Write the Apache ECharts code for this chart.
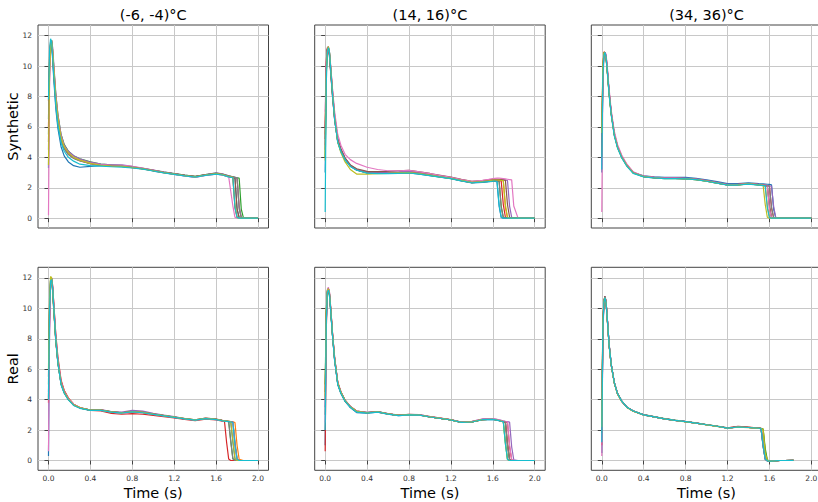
<!DOCTYPE html>
<html><head><meta charset="utf-8">
<script src="https://cdn.jsdelivr.net/npm/echarts@6/dist/echarts.min.js"></script>
<style>html,body{margin:0;padding:0;background:#fff}#c{width:818px;height:502px}</style>
</head><body><div id="c"></div>
<script>
// ---------- text / ticks ----------
const panelTitles = ['(-6, -4)°C', '(14, 16)°C', '(34, 36)°C'];
const rowLabels = ['Synthetic', 'Real'];
const xLabel = 'Time (s)';
const xTicks = [0, 0.4, 0.8, 1.2, 1.6, 2.0];
const yTicks = [0, 2, 4, 6, 8, 10, 12];
const tab10 = ['#1f77b4','#ff7f0e','#2ca02c','#d62728','#9467bd','#8c564b','#e377c2','#7f7f7f','#bcbd22','#17becf'];

// ---------- time grids ----------
const tHead = [0,0.01,0.02,0.03,0.04,0.05,0.07,0.09,0.12,0.15,0.19,0.24,0.3,0.4,0.5,0.6,0.7,0.8,0.9,1.0,1.1,1.2,1.3,1.4,1.5];
const tSynCold = tHead.concat([1.6,1.66,1.72,1.76,1.78,1.80,1.82,1.84,1.86,1.88,1.92,2.0]);
const tRealCold = tHead.concat([1.6,1.66,1.68,1.70,1.72,1.74,1.76,1.78,1.80,1.82,1.86,2.0]);
const tSynMid = tHead.concat([1.56,1.6,1.62,1.64,1.66,1.68,1.70,1.72,1.74,1.76,1.78,1.80,1.84,2.0]);
const tRealMid = tHead.concat([1.6,1.66,1.68,1.70,1.72,1.74,1.76,1.78,1.80,1.84,2.0]);
const tSynHot = tHead.concat([1.54,1.56,1.58,1.60,1.62,1.64,1.66,1.68,1.72,1.8,2.0]);
const tRealHot = tHead.concat([1.52,1.54,1.56,1.58,1.6,1.65,1.7,1.75,1.83]);

// ---------- series values (one array per curve) ----------
const synCold = [
[3.3,9.8,11.6,11.5,10.4,9.2,7.2,5.9,4.7,4.1,3.7,3.45,3.35,3.4,3.45,3.45,3.4,3.35,3.25,3.1,3.0,2.88,2.78,2.7,2.83, 2.9,2.84,2.72,2.66,2.62,0.6,0.04,0,0,0,0,0],
[7.7,10.6,11.5,11.6,10.9,9.8,7.9,6.6,5.3,4.7,4.3,4.0,3.85,3.62,3.5,3.45,3.45,3.35,3.25,3.15,3.02,2.92,2.82,2.74,2.85, 2.94,2.88,2.76,2.7,2.67,2.64,0.7,0.05,0,0,0,0],
[5.5,10.2,11.4,11.7,11.0,10.0,8.1,6.8,5.5,4.85,4.4,4.1,3.9,3.7,3.55,3.5,3.45,3.38,3.28,3.15,3.03,2.93,2.83,2.75,2.87, 2.97,2.9,2.78,2.72,2.69,2.66,2.63,0.6,0.04,0,0,0],
[6.0,10.0,11.5,11.6,10.7,9.6,7.7,6.4,5.2,4.6,4.2,3.95,3.78,3.58,3.48,3.42,3.4,3.33,3.24,3.13,3.0,2.9,2.8,2.72,2.83, 2.92,2.86,2.74,2.68,0.7,0.05,0,0,0,0,0,0],
[4.5,9.6,11.3,11.7,11.2,10.2,8.2,6.8,5.5,4.8,4.4,4.1,3.9,3.68,3.55,3.5,3.5,3.4,3.28,3.16,3.04,2.93,2.83,2.74,2.87, 2.98,2.92,2.79,2.72,2.69,2.66,0.8,0.06,0,0,0,0],
[5.0,9.8,11.4,11.6,10.8,9.7,7.8,6.5,5.25,4.65,4.25,3.98,3.8,3.6,3.5,3.45,3.43,3.36,3.26,3.14,3.01,2.91,2.81,2.73,2.85, 2.93,2.87,2.75,2.69,2.66,0.6,0.04,0,0,0,0,0],
[0.2,8.5,11.2,11.7,11.1,10.0,8.0,6.6,5.35,4.7,4.3,4.02,3.82,3.62,3.52,3.48,3.47,3.4,3.3,3.16,3.02,2.9,2.78,2.68,2.81, 2.9,2.84,2.72,0.8,0.06,0,0,0,0,0,0,0],
[6.5,10.4,11.6,11.6,10.6,9.5,7.6,6.3,5.1,4.55,4.18,3.93,3.76,3.58,3.48,3.44,3.42,3.36,3.26,3.14,3.02,2.92,2.82,2.74,2.85, 2.94,2.88,2.76,2.7,2.67,2.64,0.6,0.04,0,0,0,0],
[3.5,9.5,11.3,11.7,11.0,9.9,7.9,6.6,5.3,4.7,4.3,4.0,3.82,3.6,3.48,3.42,3.4,3.33,3.24,3.12,3.0,2.9,2.8,2.72,2.84, 2.93,2.86,2.74,2.68,0.9,0.06,0,0,0,0,0,0],
[7.8,11.0,11.8,11.6,10.6,9.4,7.4,6.1,4.95,4.4,4.0,3.75,3.55,3.45,3.42,3.38,3.36,3.3,3.22,3.1,2.98,2.88,2.78,2.7,2.81, 2.9,2.84,2.72,2.66,0.7,0.05,0,0,0,0,0,0]
];
const realCold = [
[0.3,8.5,11.6,11.9,11.3,10.1,7.9,6.4,5.0,4.45,4.0,3.65,3.45,3.3,3.32,3.2,3.14,3.22,3.16,3.04,2.94,2.84,2.73,2.66,2.76, 2.7,2.62,2.6,2.58,2.56,2.54,1.2,0.1,0,0,0,0],
[4.0,9.5,11.8,12.0,11.5,10.3,8.1,6.6,5.2,4.6,4.1,3.7,3.48,3.32,3.33,3.2,3.14,3.22,3.17,3.06,2.96,2.86,2.76,2.68,2.78, 2.72,2.64,2.62,2.6,2.58,2.56,2.54,2.5,1.0,0.08,0,0],
[5.0,10.0,11.9,11.9,11.2,10.0,7.9,6.5,5.1,4.5,4.05,3.66,3.46,3.31,3.3,3.18,3.12,3.2,3.15,3.04,2.94,2.84,2.74,2.66,2.76, 2.7,2.62,2.6,2.58,2.55,1.3,0.12,0,0,0,0,0],
[3.8,9.2,11.5,11.8,11.4,10.4,8.3,6.8,5.3,4.6,4.1,3.7,3.45,3.3,3.26,3.1,3.04,3.08,3.04,2.96,2.88,2.8,2.7,2.62,2.72, 2.66,2.58,2.56,1.2,0.1,0,0,0,0,0,0,0],
[4.5,9.6,11.7,12.0,11.4,10.2,8.0,6.5,5.1,4.5,4.05,3.68,3.47,3.32,3.34,3.22,3.18,3.3,3.24,3.1,2.98,2.88,2.76,2.68,2.78, 2.72,2.64,2.62,2.6,2.58,2.56,2.53,1.1,0.08,0,0,0],
[5.5,10.2,11.9,11.9,11.1,9.9,7.8,6.4,5.05,4.45,4.0,3.64,3.45,3.31,3.31,3.19,3.13,3.21,3.16,3.05,2.95,2.85,2.74,2.66,2.76, 2.7,2.62,2.6,2.58,2.56,2.54,2.52,1.2,0.1,0,0,0],
[0.6,8.0,11.4,11.9,11.5,10.4,8.2,6.7,5.2,4.55,4.08,3.7,3.48,3.3,3.3,3.17,3.1,3.18,3.14,3.03,2.93,2.83,2.73,2.65,2.75, 2.69,2.61,2.59,2.57,2.55,2.53,2.5,0.9,0.06,0,0,0],
[4.2,9.7,11.8,12.0,11.3,10.1,7.95,6.5,5.1,4.5,4.02,3.66,3.46,3.31,3.32,3.2,3.14,3.22,3.16,3.05,2.95,2.85,2.75,2.67,2.77, 2.71,2.63,2.61,2.59,2.57,1.2,0.1,0,0,0,0,0],
[6.0,10.6,12.1,12.0,11.2,10.0,7.9,6.45,5.05,4.47,4.02,3.66,3.46,3.31,3.31,3.19,3.13,3.21,3.16,3.05,2.95,2.85,2.75,2.67,2.77, 2.71,2.63,2.61,2.59,2.57,2.55,1.3,0.12,0,0,0,0],
[4.0,9.8,11.8,11.9,11.3,10.1,7.9,6.4,5.0,4.42,3.98,3.62,3.43,3.3,3.3,3.18,3.12,3.2,3.14,3.03,2.93,2.83,2.73,2.65,2.75, 2.69,2.61,2.59,2.57,2.55,2.53,2.51,1.0,0.08,0,0,0]
];
const synMid = [
[3.0,9.5,11.0,11.2,10.8,9.9,8.1,6.5,5.0,4.4,3.85,3.42,3.17,2.98,2.95,2.95,2.96,2.98,2.9,2.8,2.7,2.6,2.45,2.32,2.36, 2.4,2.42,2.42,2.4,0.8,0.05,0,0,0,0,0,0,0,0],
[5.5,10.0,11.1,11.2,10.9,10.1,8.3,6.7,5.2,4.5,3.9,3.47,3.2,3.0,2.97,2.98,3.0,3.03,2.95,2.85,2.74,2.64,2.5,2.37,2.42, 2.46,2.5,2.51,2.5,2.49,2.48,2.46,0.7,0.04,0,0,0,0,0],
[4.0,9.6,11.0,11.2,10.9,10.0,8.2,6.6,5.1,4.45,3.88,3.44,3.18,2.99,2.96,2.96,2.97,3.0,2.92,2.82,2.72,2.62,2.47,2.34,2.38, 2.42,2.44,2.45,2.44,2.43,0.8,0.05,0,0,0,0,0,0,0],
[6.0,10.3,11.2,11.2,10.7,9.8,8.0,6.5,5.05,4.42,3.87,3.44,3.18,2.99,2.97,2.98,3.0,3.04,2.96,2.86,2.75,2.64,2.49,2.36,2.4, 2.44,2.47,2.48,2.47,2.46,2.45,0.9,0.06,0,0,0,0,0,0],
[4.8,9.8,11.1,11.3,11.0,10.2,8.4,6.8,5.25,4.55,3.95,3.5,3.22,3.02,3.0,3.01,3.04,3.08,3.0,2.89,2.78,2.67,2.52,2.39,2.44, 2.49,2.53,2.55,2.55,2.54,2.53,2.52,2.5,2.48,0.8,0.05,0,0,0],
[5.2,9.9,11.1,11.2,10.9,10.1,8.3,6.75,5.2,4.55,3.95,3.5,3.25,3.08,3.06,3.08,3.12,3.15,3.05,2.94,2.82,2.7,2.55,2.42,2.47, 2.52,2.55,2.56,2.56,2.55,2.54,2.52,2.5,0.9,0.06,0,0,0,0],
[7.0,10.2,11.0,11.1,10.9,10.2,8.5,7.0,5.5,4.8,4.2,3.85,3.6,3.35,3.2,3.12,3.12,3.14,3.05,2.93,2.8,2.68,2.54,2.42,2.48, 2.55,2.6,2.62,2.63,2.63,2.62,2.6,2.58,2.56,2.54,2.52,0.8,0.02,0],
[4.5,9.7,11.0,11.2,10.8,9.9,8.1,6.55,5.05,4.42,3.86,3.43,3.17,2.98,2.95,2.96,2.98,3.01,2.93,2.83,2.72,2.62,2.47,2.34,2.38, 2.42,2.45,2.46,2.45,2.44,0.7,0.04,0,0,0,0,0,0,0],
[3.8,9.3,10.9,11.3,11.0,10.1,8.2,6.6,5.0,4.3,3.7,3.2,2.9,2.9,2.93,2.95,2.98,3.0,2.93,2.83,2.72,2.62,2.48,2.36,2.41, 2.46,2.5,2.51,2.51,2.5,2.49,2.47,0.9,0.06,0,0,0,0,0],
[0.4,8.8,10.8,11.2,11.0,10.0,8.1,6.5,5.0,4.38,3.83,3.4,3.15,2.96,2.93,2.93,2.95,2.97,2.9,2.8,2.7,2.6,2.45,2.33,2.37, 2.41,2.43,2.43,2.42,0.9,0.06,0,0,0,0,0,0,0,0]
];
const realMid = [
[1.0,8.8,11.0,11.3,11.0,10.1,8.2,6.6,5.0,4.4,3.88,3.48,3.15,3.12,3.18,3.05,2.95,3.0,2.98,2.86,2.76,2.66,2.5,2.53,2.68, 2.7,2.62,2.58,2.55,2.52,1.0,0.06,0,0,0,0],
[4.0,9.5,11.1,11.3,11.0,10.2,8.3,6.7,5.1,4.5,3.95,3.55,3.25,3.15,3.2,3.07,2.97,3.03,3.0,2.88,2.78,2.68,2.52,2.55,2.7, 2.72,2.64,2.6,2.56,2.53,1.1,0.07,0,0,0,0],
[5.0,9.8,11.2,11.2,10.9,10.1,8.2,6.65,5.05,4.45,3.92,3.52,3.22,3.15,3.21,3.07,2.96,3.01,2.99,2.87,2.77,2.67,2.51,2.54,2.69, 2.71,2.63,2.59,2.56,1.2,0.08,0,0,0,0,0],
[0.6,8.5,10.9,11.3,11.1,10.3,8.4,6.8,5.15,4.52,3.96,3.55,3.25,3.14,3.19,3.06,2.96,3.02,2.99,2.87,2.77,2.67,2.51,2.54,2.69, 2.71,2.63,2.59,2.55,2.52,2.5,0.9,0.05,0,0,0],
[3.5,9.2,11.0,11.3,11.1,10.2,8.3,6.7,5.1,4.5,3.95,3.55,3.25,3.16,3.21,3.08,2.98,3.04,3.01,2.89,2.79,2.69,2.53,2.57,2.73, 2.76,2.68,2.64,2.6,2.57,2.55,2.52,0.9,0.05,0,0],
[4.5,9.6,11.1,11.2,10.9,10.1,8.25,6.65,5.05,4.45,3.92,3.52,3.22,3.15,3.2,3.07,2.97,3.02,2.99,2.87,2.77,2.67,2.51,2.54,2.69, 2.71,2.63,2.59,2.56,2.53,1.1,0.07,0,0,0,0],
[2.5,9.0,11.2,11.4,11.1,10.3,8.4,6.8,5.15,4.5,3.95,3.55,3.24,3.15,3.2,3.07,2.97,3.02,3.0,2.88,2.78,2.68,2.52,2.56,2.72, 2.75,2.67,2.63,2.59,2.56,2.54,1.0,0.06,0,0,0],
[3.0,9.1,11.0,11.3,11.0,10.2,8.3,6.7,5.1,4.48,3.94,3.53,3.23,3.14,3.19,3.06,2.96,3.01,2.99,2.87,2.77,2.67,2.51,2.54,2.69, 2.71,2.63,2.59,2.56,2.53,1.0,0.06,0,0,0,0],
[4.2,9.6,11.1,11.3,11.0,10.2,8.3,6.7,5.1,4.48,3.94,3.53,3.23,3.14,3.19,3.06,2.96,3.01,2.99,2.87,2.77,2.67,2.51,2.54,2.69, 2.71,2.63,2.59,2.56,1.1,0.07,0,0,0,0,0],
[2.0,9.0,11.0,11.2,11.0,10.1,8.2,6.6,5.0,4.42,3.9,3.5,3.18,3.12,3.18,3.05,2.95,3.0,2.98,2.86,2.76,2.66,2.5,2.53,2.68, 2.7,2.62,2.58,2.55,1.1,0.07,0,0,0,0,0]
];
const synHot = [
[3.0,9.2,10.8,10.9,10.6,9.9,8.2,6.9,5.5,4.7,4.0,3.45,3.0,2.78,2.72,2.68,2.68,2.68,2.62,2.52,2.4,2.27,2.27,2.33,2.27, 2.25,2.24,2.23,2.22,2.2,0.6,0.03,0,0,0,0],
[5.0,9.8,10.9,10.9,10.6,9.9,8.2,6.9,5.5,4.7,4.05,3.48,3.0,2.74,2.67,2.62,2.62,2.6,2.55,2.45,2.32,2.19,2.2,2.26,2.2, 2.17,2.15,0.8,0.05,0,0,0,0,0,0,0],
[4.2,9.5,10.8,10.9,10.7,10.0,8.3,6.95,5.55,4.72,4.05,3.47,2.98,2.72,2.65,2.6,2.61,2.59,2.54,2.44,2.31,2.18,2.19,2.25,2.19, 2.16,2.14,2.12,0.7,0.04,0,0,0,0,0,0],
[4.8,9.7,10.9,10.9,10.7,10.0,8.3,6.95,5.55,4.75,4.07,3.5,3.02,2.75,2.68,2.63,2.63,2.61,2.56,2.46,2.33,2.2,2.22,2.28,2.21, 2.18,2.16,2.14,2.12,0.7,0.04,0,0,0,0,0],
[3.5,9.3,10.8,10.9,10.7,10.0,8.3,6.9,5.5,4.72,4.05,3.48,3.0,2.76,2.7,2.65,2.65,2.63,2.58,2.48,2.35,2.22,2.23,2.29,2.22, 2.19,2.17,2.15,2.13,2.11,0.8,0.05,0,0,0,0],
[4.5,9.6,10.9,10.9,10.6,9.95,8.25,6.9,5.5,4.7,4.03,3.46,2.99,2.74,2.67,2.62,2.62,2.6,2.55,2.45,2.32,2.19,2.2,2.26,2.2, 2.17,2.15,2.13,0.9,0.06,0,0,0,0,0,0],
[0.4,8.5,10.6,10.9,10.8,10.2,8.5,7.1,5.7,4.85,4.15,3.55,3.05,2.76,2.68,2.63,2.63,2.61,2.56,2.46,2.33,2.2,2.21,2.27,2.21, 2.18,2.16,2.14,0.6,0.03,0,0,0,0,0,0],
[4.0,9.4,10.8,10.9,10.6,9.9,8.2,6.85,5.45,4.68,4.02,3.45,2.98,2.73,2.66,2.61,2.61,2.59,2.54,2.44,2.31,2.18,2.19,2.25,2.19, 2.16,2.14,2.12,2.1,0.7,0.04,0,0,0,0,0],
[5.6,10.0,10.9,10.8,10.5,9.8,8.1,6.8,5.45,4.65,4.0,3.44,2.97,2.73,2.66,2.61,2.61,2.59,2.54,2.44,2.31,2.18,2.19,2.25,2.19, 2.16,0.9,0.06,0,0,0,0,0,0,0,0],
[3.2,9.2,10.7,10.9,10.6,9.9,8.15,6.8,5.4,4.62,3.97,3.4,2.95,2.72,2.65,2.6,2.6,2.58,2.53,2.43,2.3,2.17,2.18,2.24,2.17, 2.14,2.12,0.7,0.04,0,0,0,0,0,0,0]
];
const realHot = [
[0.5,8.3,10.4,10.7,10.5,9.6,7.6,6.3,5.1,4.4,3.9,3.5,3.25,3.0,2.87,2.74,2.64,2.55,2.46,2.35,2.25,2.13,2.2,2.17,2.12, 2.1,1.0,0.1,-0.02,-0.04,-0.03,0,0,0.01],
[2.5,9.0,10.5,10.7,10.4,9.5,7.55,6.28,5.08,4.38,3.88,3.49,3.24,3.0,2.87,2.74,2.64,2.55,2.46,2.35,2.25,2.13,2.2,2.17,2.12, 2.1,2.06,0.6,0.02,-0.04,-0.03,0,0,0.01],
[1.5,8.6,10.4,10.7,10.5,9.6,7.65,6.32,5.12,4.42,3.92,3.51,3.26,3.01,2.88,2.75,2.65,2.56,2.47,2.36,2.26,2.14,2.21,2.18,2.13, 2.11,2.07,0.8,0.04,-0.04,-0.03,0,0,0.01],
[1.0,8.4,10.4,10.7,10.5,9.6,7.6,6.3,5.1,4.4,3.9,3.5,3.25,3.0,2.87,2.74,2.64,2.55,2.46,2.35,2.25,2.14,2.24,2.2,2.13, 2.11,1.2,0.12,-0.02,-0.04,-0.03,0,0,0.01],
[1.2,8.5,10.5,10.8,10.5,9.6,7.6,6.3,5.1,4.4,3.9,3.5,3.25,3.0,2.87,2.74,2.64,2.55,2.46,2.35,2.25,2.13,2.2,2.17,2.12, 2.1,0.9,0.08,-0.02,-0.04,-0.03,0,0,0.01],
[2.0,8.8,10.5,10.8,10.5,9.6,7.6,6.3,5.1,4.4,3.9,3.5,3.25,3.0,2.87,2.74,2.64,2.55,2.46,2.35,2.25,2.13,2.2,2.17,2.12, 2.1,1.0,0.1,-0.02,-0.04,-0.03,0,0,0.01],
[0.3,8.0,10.3,10.7,10.5,9.65,7.7,6.35,5.12,4.42,3.91,3.5,3.25,3.0,2.87,2.74,2.64,2.55,2.46,2.35,2.25,2.13,2.2,2.17,2.12, 2.1,1.1,0.1,-0.02,-0.04,-0.03,0,0,0.01],
[1.8,8.7,10.5,10.7,10.4,9.55,7.6,6.3,5.1,4.4,3.9,3.5,3.25,3.0,2.87,2.74,2.64,2.55,2.46,2.35,2.25,2.13,2.2,2.17,2.12, 2.1,0.9,0.08,-0.02,-0.04,-0.03,0,0,0.01],
[2.2,8.9,10.5,10.7,10.4,9.5,7.55,6.27,5.07,4.38,3.88,3.49,3.24,2.99,2.86,2.73,2.63,2.54,2.45,2.34,2.24,2.12,2.19,2.16,2.11, 2.09,2.05,0.5,0.02,-0.04,-0.03,0,0,0.01],
[1.2,8.5,10.4,10.7,10.4,9.55,7.6,6.3,5.1,4.4,3.9,3.5,3.25,3.0,2.87,2.74,2.64,2.55,2.46,2.35,2.25,2.13,2.2,2.17,2.12, 2.1,1.0,0.1,-0.02,-0.04,-0.03,0,0,0.01]
];

// ---------- layout ----------
const panels = [
  {t: tSynCold, s: synCold}, {t: tSynMid, s: synMid}, {t: tSynHot, s: synHot},
  {t: tRealCold, s: realCold}, {t: tRealMid, s: realMid}, {t: tRealHot, s: realHot}
];
const colLeft = [38, 314.7, 591.3];
const rowTop = [25, 267.3];
const GW = 230.5, GH = 203;
const FONT = 'DejaVu Sans';

const grids = [], xAxes = [], yAxes = [], series = [];
panels.forEach((p, i) => {
  const row = Math.floor(i / 3), col = i % 3;
  grids.push({left: colLeft[col], top: rowTop[row], width: GW, height: GH,
    show: true, borderColor: '#444', borderWidth: 1, backgroundColor: 'transparent',
    containLabel: false, outerBoundsMode: 'none'});
  xAxes.push({type: 'value', gridIndex: i, min: -0.1, max: 2.1,
    axisLine: {show: false},
    axisTick: {show: true, inside: false, length: 4, customValues: xTicks, lineStyle: {color: '#444', width: 1}},
    axisLabel: {show: row === 1, customValues: xTicks, formatter: v => v.toFixed(1), fontSize: 7.5, color: '#333', margin: 4, fontFamily: FONT},
    splitLine: {show: true, lineStyle: {color: '#c8c8c8', width: 1}}});
  yAxes.push({type: 'value', gridIndex: i, min: -0.645, max: 12.7,
    axisLine: {show: false},
    axisTick: {show: true, inside: false, length: 4, customValues: yTicks, lineStyle: {color: '#444', width: 1}},
    axisLabel: {show: col === 0, customValues: yTicks, formatter: v => String(v), fontSize: 7.5, color: '#333', margin: 6, fontFamily: FONT},
    splitLine: {show: true, lineStyle: {color: '#c8c8c8', width: 1}}});
  p.s.forEach((vals, k) => {
    if (vals.length !== p.t.length) throw new Error('length mismatch panel ' + i + ' series ' + k + ': ' + vals.length + ' vs ' + p.t.length);
    series.push({type: 'line', xAxisIndex: i, yAxisIndex: i, showSymbol: false, symbol: 'none',
      smooth: false, silent: true, animation: false,
      lineStyle: {width: 1.2, color: tab10[k % 10]}, itemStyle: {color: tab10[k % 10]},
      data: p.t.map((t, j) => [t, vals[j]])});
  });
});

const graphics = [];
panelTitles.forEach((txt, c) => {
  graphics.push({type: 'text', x: colLeft[c] + GW / 2, y: 15,
    style: {text: txt, fontSize: 14.5, fontFamily: FONT, fill: '#000', align: 'center', verticalAlign: 'middle'}});
  graphics.push({type: 'text', x: colLeft[c] + GW / 2, y: 493,
    style: {text: xLabel, fontSize: 14.5, fontFamily: FONT, fill: '#000', align: 'center', verticalAlign: 'middle'}});
});
rowLabels.forEach((txt, r) => {
  graphics.push({type: 'text', x: 13, y: rowTop[r] + GH / 2, rotation: Math.PI / 2,
    style: {text: txt, fontSize: 14.5, fontFamily: FONT, fill: '#000', align: 'center', verticalAlign: 'middle'}});
});

const chart = echarts.init(document.getElementById('c'), null, {renderer: 'svg', width: 818, height: 502});
chart.setOption({
  animation: false,
  backgroundColor: '#fff',
  textStyle: {fontFamily: FONT},
  grid: grids, xAxis: xAxes, yAxis: yAxes, series: series, graphic: graphics
});
</script></body></html>
